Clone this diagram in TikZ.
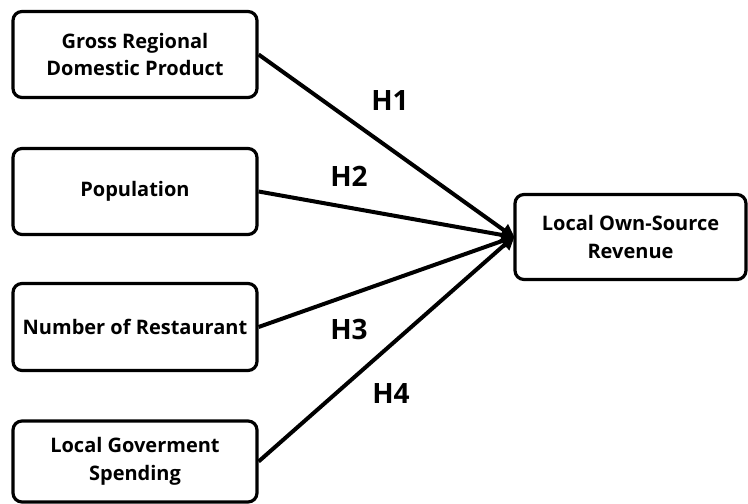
\documentclass[tikz,border=0pt]{standalone}
\usepackage{fontspec}
\setmainfont{Open Sans}
\usetikzlibrary{arrows.meta}
\tikzset{
  varbox/.style={draw=black, line width=3.2pt, rounded corners=9pt, fill=white,
    minimum width=244pt, inner sep=0pt, align=center,
    font=\fontsize{20}{27.5}\selectfont\bfseries},
  hlabel/.style={font=\fontsize{28}{30}\selectfont\bfseries, inner sep=0pt},
  link/.style={line width=4pt, -{Triangle[length=14pt,width=14pt]}, shorten >=-2pt}
}
\begin{document}
\begin{tikzpicture}[x=1pt,y=-1pt]
\useasboundingbox (0,0) rectangle (748,504);
\node[varbox, minimum height=86pt] (gdp) at (135,54.5) {Gross Regional\\Domestic Product};
\node[varbox, minimum height=86pt] (pop) at (135,191.5) {Population};
\node[varbox, minimum height=87pt] (rest) at (135,327) {Number of Restaurant};
\node[varbox, minimum height=81pt] (gov) at (135,461.5) {Local Goverment\\Spending};
\node[varbox, minimum width=231pt, minimum height=85pt] (rev) at (630.5,237) {Local Own-Source\\Revenue};
\coordinate (tip) at (rev.west);
\draw[link] (gdp.east) -- (tip);
\draw[link] (pop.east) -- (tip);
\draw[link] (rest.east) -- (tip);
\draw[link] (gov.east) -- (tip);
\node[hlabel] (h1) at (390,101) {H1};
\node[hlabel] (h2) at (349,176) {H2};
\node[hlabel] (h3) at (349,329) {H3};
\node[hlabel] (h4) at (391,393) {H4};
\end{tikzpicture}
\end{document}
